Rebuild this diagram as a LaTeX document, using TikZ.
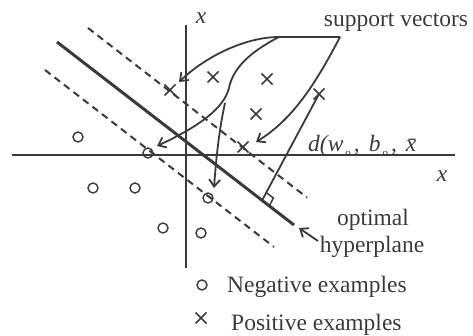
\documentclass[tikz,border=0pt]{standalone}
\usepackage{fontspec}
\setmainfont{Liberation Serif}
\usetikzlibrary{arrows.meta,shapes.misc,calc}
\definecolor{ink}{HTML}{3A3A3A}
\begin{document}
\begin{tikzpicture}[x=1pt,y=-1pt,
  lbl/.style={text=ink,font=\fontsize{23.5}{28}\selectfont,inner sep=0pt},
  axl/.style={text=ink,font=\fontsize{23.5}{28}\selectfont\itshape,inner sep=0pt},
  negmark/.style={circle,draw=ink,line width=1.4pt,minimum size=10pt,inner sep=0pt},
  posmark/.style={cross out,draw=ink,line width=1.5pt,minimum size=9.5pt,inner sep=0pt},
  axisln/.style={draw=ink,line width=2pt},
  hypln/.style={draw=ink,line width=3pt},
  margln/.style={draw=ink,line width=2pt,dash pattern=on 7pt off 5pt},
  callout/.style={draw=ink,line width=1.8pt,-{Straight Barb[length=7pt,width=11pt]}},
  dline/.style={draw=ink,line width=1.8pt},
]
\useasboundingbox (0,0) rectangle (473,336);
% axes
\coordinate (vt) at (186,25); \coordinate (vb) at (186,268);
\coordinate (hl) at (12,155); \coordinate (hr) at (455,155);
\draw[axisln] (vt) -- (vb);
\draw[axisln] (hl) -- (hr);
\node[axl] (xtop) at (201,18) {x};
\node[axl] (xright) at (442,176) {x};
% hyperplane and margins
\coordinate (h1) at (57,42); \coordinate (h2) at (294,225);
\coordinate (u1) at (88,28); \coordinate (u2) at (307,197.5);
\coordinate (l1) at (45,70); \coordinate (l2) at (274,247);
\draw[margln] (u1) -- (u2);
\draw[margln] (l1) -- (l2);
\draw[hypln] (h1) -- (h2);
% negative examples
\node[negmark] (n1) at (78,137) {};
\node[negmark] (n2) at (148,153) {};
\node[negmark] (n3) at (93,188) {};
\node[negmark] (n4) at (135,188) {};
\node[negmark] (n5) at (163,228) {};
\node[negmark] (n6) at (208,198) {};
\node[negmark] (n7) at (201,233) {};
% positive examples
\node[posmark] (p1) at (170,90) {};
\node[posmark] (p2) at (213,77) {};
\node[posmark] (p3) at (267,79) {};
\node[posmark] (p4) at (256,114) {};
\node[posmark] (p5) at (319,94) {};
\node[posmark] (p6) at (243,147) {};
% distance line with right angle
\coordinate (F) at (262,200.5);
\draw[dline] (p5.center) -- (F);
\coordinate (sqa) at ($(F)!9pt!(h2)$);
\coordinate (sqc) at ($(F)!9pt!(p5.center)$);
\coordinate (sqb) at ($(sqa)+(sqc)-(F)$);
\draw[draw=ink,line width=1.5pt] (F) -- (sqa) -- (sqb) -- (sqc);
\node[axl,anchor=base west] (dlab) at (308,152) {d(w\kern2pt\raisebox{-5pt}{\fontsize{11}{11}\selectfont\upshape o}\kern3pt,\kern9pt b\kern2pt\raisebox{-5pt}{\fontsize{11}{11}\selectfont\upshape o}\kern3pt,\kern9pt \={x}};
% support vector callouts
\node[lbl,anchor=base] (sv) at (396,27) {support vectors};
\coordinate (c1) at (340,37); \coordinate (c2) at (279,37);
\coordinate (t1) at (179,82); \coordinate (t2) at (256,142);
\coordinate (t3) at (157,146); \coordinate (t4) at (214,188);
\coordinate (j) at (225,103);
\draw[callout] (c1) -- (c2) .. controls (245,37) and (205,57) .. (t1);
\draw[callout] (c1) .. controls (315,85) and (292,120) .. (t2);
\draw[callout] (c2) .. controls (250,52) and (233,68) .. (229,88) .. controls (224,108) and (200,126) .. (t3);
\draw[callout] (j) .. controls (219,130) and (216,160) .. (t4);
% optimal hyperplane label
\node[lbl,anchor=base] (opt) at (373,226) {optimal};
\node[lbl,anchor=base] (hyl) at (372,252) {hyperplane};
\coordinate (ha) at (318,241); \coordinate (hb) at (299,228);
\draw[callout] (ha) -- (hb);
% legend
\node[negmark] (lgn) at (202,285) {};
\node[posmark] (lgp) at (201,318) {};
\node[lbl,anchor=base west] (negt) at (227,292) {Negative examples};
\node[lbl,anchor=base west] (post) at (231,330) {Positive examples};
\end{tikzpicture}
\end{document}
